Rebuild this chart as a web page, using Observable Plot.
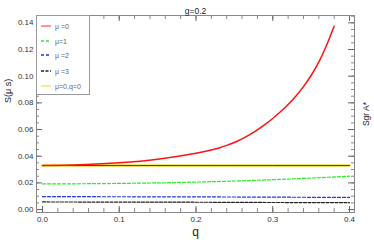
<!DOCTYPE html>
<html><head><meta charset="utf-8">
<script src="https://cdn.jsdelivr.net/npm/d3@7"></script>
<script src="https://cdn.jsdelivr.net/npm/@observablehq/plot@0.6"></script>
<style>
body{margin:0;background:#fff;font-family:"Liberation Sans",Arial,sans-serif;}
#wrap{position:relative;width:374px;height:243px;}
#legend{position:absolute;left:36px;top:15px;width:54px;height:80px;background:#fff;border:1px solid #999;box-sizing:border-box;font-size:7px;color:#666;}
#legend .row{position:absolute;left:4px;height:10px;display:flex;align-items:center;}
#legend svg{margin-right:4px;}
</style></head>
<body><div id="wrap"><div id="chart"></div><div id="legend"></div></div>
<script>
const title = "g=0.2";
const xLabel = "q";
const yLabel = "S(μ s)";
const rightLabel = "Sgr A*";
const xTicks = [0.0, 0.1, 0.2, 0.3, 0.4];
const yTicks = [0.00, 0.02, 0.04, 0.06, 0.08, 0.10, 0.12, 0.14];

const qRed = [0, 0.05, 0.1, 0.15, 0.2, 0.21, 0.22, 0.23, 0.24, 0.25, 0.26, 0.27, 0.28, 0.29, 0.30, 0.31, 0.32, 0.33, 0.34, 0.35, 0.36, 0.37, 0.38];
const sRed = [0.0330, 0.0336, 0.0351, 0.0378, 0.0422, 0.0433, 0.0446, 0.0462, 0.0481, 0.0503, 0.0530, 0.0562, 0.0598, 0.0638, 0.0683, 0.0733, 0.0788, 0.0850, 0.0922, 0.1005, 0.1105, 0.1230, 0.1375];
const qLin = [0, 0.1, 0.2, 0.3, 0.4];
const sMu1 = [0.0192, 0.0196, 0.0206, 0.0224, 0.0250];
const sMu2 = [0.0097, 0.0096, 0.0095, 0.0093, 0.0091];
const sMu3 = [0.0057, 0.0056, 0.0055, 0.0053, 0.0052];
const sQ0 = [0.0330, 0.0330, 0.0330, 0.0330, 0.0330];
const legendLabels = ["μ =0", "μ=1", "μ =2", "μ =3", "μ=0,q=0"];

const series = [
  {label: legendLabels[0], q: qRed, s: sRed, color: "#ff1111", dash: null, w: 1.5},
  {label: legendLabels[1], q: qLin, s: sMu1, color: "#22ee22", dash: "3,2", w: 1.2},
  {label: legendLabels[2], q: qLin, s: sMu2, color: "#2233ee", dash: "3,2", w: 1.2},
  {label: legendLabels[3], q: qLin, s: sMu3, color: "#222222", dash: "3,1.5", w: 1.2},
  {label: legendLabels[4], q: qLin, s: sQ0, color: "#f0e040", dash: null, w: 2.2}
];
const toRows = s => s.q.map((q, i) => ({q, s: s.s[i]}));

const minorX = d3.range(0, 0.4001, 0.02);
const minorY = d3.range(0, 0.1451, 0.005);
const W = 374, H = 243, mt = 15, mb = 31, ml = 36, mr = 20;
const fh = H - mt - mb, fw = W - ml - mr;

const marks = [];
marks.push(Plot.line(toRows(series[4]), {x: "q", y: "s", stroke: series[4].color, strokeWidth: 2.4}));
marks.push(Plot.line(toRows(series[4]), {x: "q", y: "s", stroke: "#3a3300", strokeWidth: 0.9}));
for (const s of [series[3], series[2], series[1], series[0]]) {
  marks.push(Plot.line(toRows(s), {x: "q", y: "s", stroke: s.color, strokeWidth: s.w, strokeDasharray: s.dash, curve: "monotone-x"}));
}
marks.push(Plot.tickX(minorX, {x: d => d, insetTop: fh - 4, stroke: "#888"}));
marks.push(Plot.tickX(minorX, {x: d => d, insetBottom: fh - 4, stroke: "#888"}));
marks.push(Plot.tickY(minorY, {y: d => d, insetRight: fw - 3, stroke: "#888"}));
marks.push(Plot.tickY(minorY, {y: d => d, insetLeft: fw - 3, stroke: "#888"}));
marks.push(Plot.tickX(xTicks, {x: d => d, insetTop: fh - 6, stroke: "#666"}));
marks.push(Plot.tickX(xTicks, {x: d => d, insetBottom: fh - 6, stroke: "#666"}));
marks.push(Plot.tickY(yTicks, {y: d => d, insetRight: fw - 6, stroke: "#666"}));
marks.push(Plot.tickY(yTicks, {y: d => d, insetLeft: fw - 6, stroke: "#666"}));
marks.push(Plot.axisX({ticks: xTicks, tickSize: 0, tickPadding: 4, tickFormat: d3.format(".1f"), label: null, fontSize: 8, color: "#333"}));
marks.push(Plot.axisY({ticks: yTicks, tickSize: 0, tickPadding: 3, tickFormat: d3.format(".2f"), label: null, fontSize: 8, color: "#333"}));
marks.push(Plot.frame({stroke: "#888"}));
marks.push(Plot.text([title], {text: d => d, frameAnchor: "top", dy: -8, fontSize: 8.5, fill: "#222"}));
marks.push(Plot.text([xLabel], {text: d => d, frameAnchor: "bottom", dy: 15, lineAnchor: "top", fontSize: 12, fill: "#222"}));
marks.push(Plot.text([yLabel], {text: d => d, frameAnchor: "left", dx: -28, dy: -11, rotate: -90, fontSize: 9, fill: "#222"}));
marks.push(Plot.text([rightLabel], {text: d => d, frameAnchor: "right", dx: 12, dy: -12, rotate: -90, fontSize: 8.5, fill: "#222"}));

const chart = Plot.plot({
  width: W, height: H,
  marginTop: mt, marginBottom: mb, marginLeft: ml, marginRight: mr,
  style: {fontFamily: "Liberation Sans, Arial, sans-serif", background: "#fff"},
  x: {domain: [-0.0078, 0.4065]},
  y: {domain: [-0.0022, 0.1455]},
  marks
});
document.getElementById("chart").appendChild(chart);

const lg = document.getElementById("legend");
const rowTops = [5, 20, 34, 50, 65];
series.forEach((s, i) => {
  const row = document.createElement("div");
  row.className = "row";
  row.style.top = rowTops[i] + "px";
  const dash = s.dash ? `stroke-dasharray="${s.dash}"` : "";
  const sw = i === 4 ? 1.2 : 1.3;
  row.innerHTML = `<svg width="10" height="4"><line x1="0" y1="2" x2="10" y2="2" stroke="${s.color}" stroke-width="${sw}" ${dash} stroke-opacity="${i===0?0.7:1}"/></svg><span>${s.label}</span>`;
  lg.appendChild(row);
});
</script></body></html>
